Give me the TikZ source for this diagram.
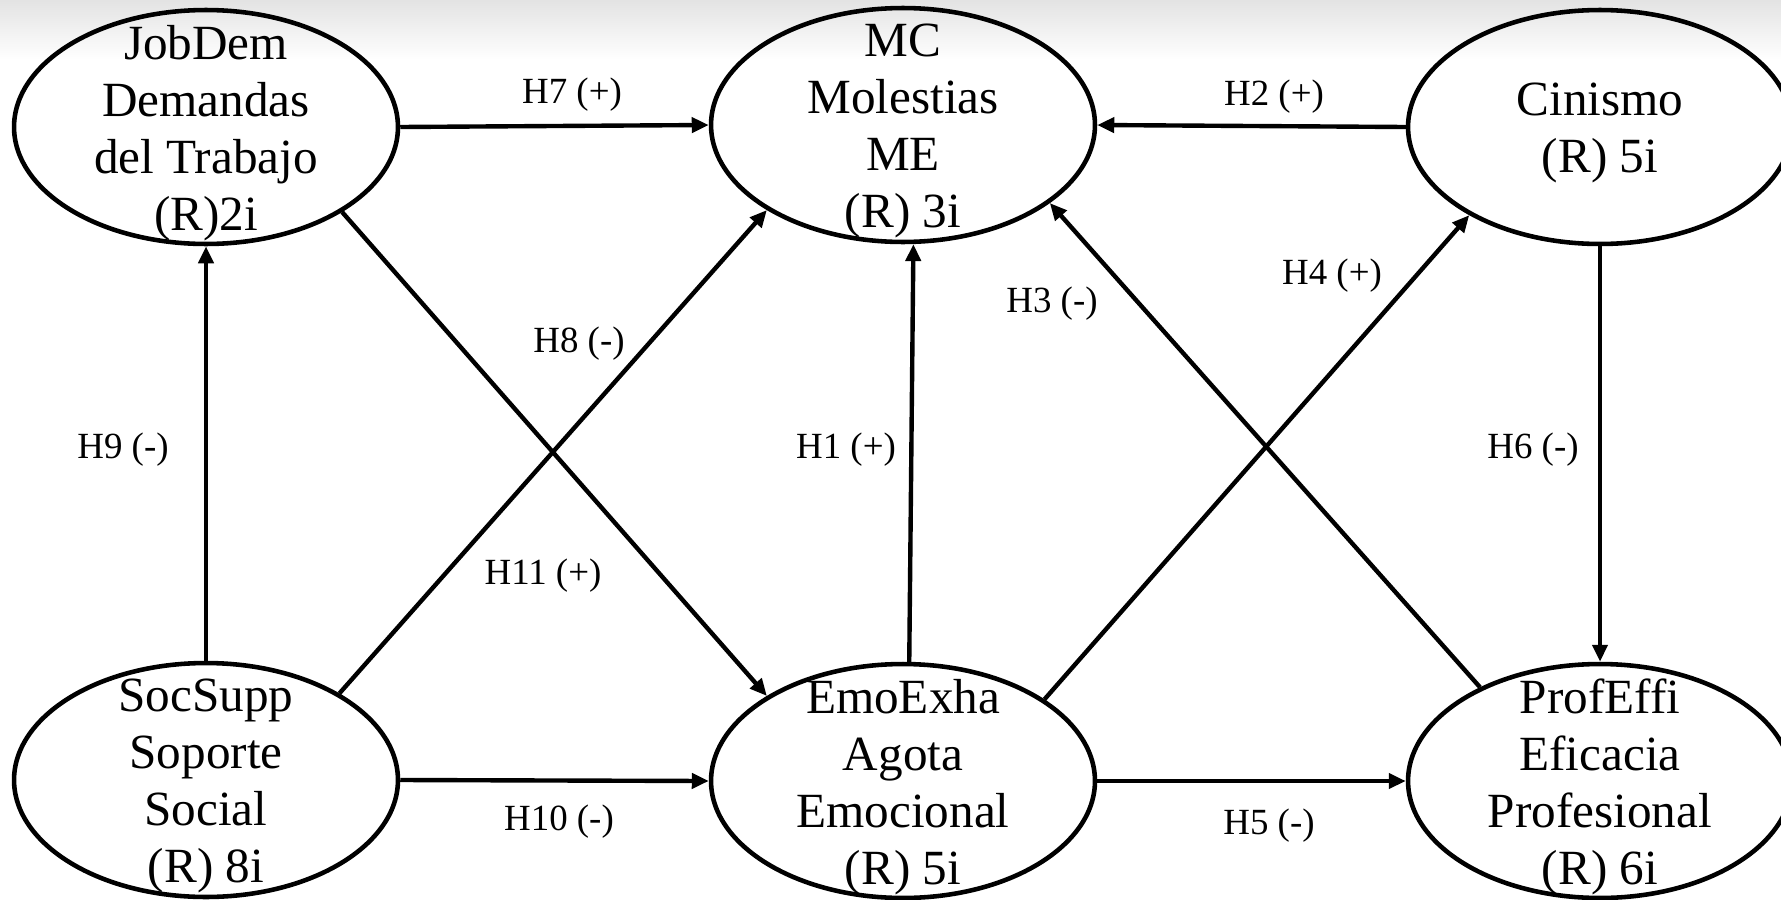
\documentclass[tikz,border=0pt]{standalone}
\usepackage{fontspec}
\setmainfont{Liberation Serif}
\usetikzlibrary{shapes.geometric,arrows.meta}

\begin{document}
\begin{tikzpicture}[x=0.02cm,y=-0.02cm,
        latent/.style={ellipse, draw, line width=2.6pt, minimum width=7.68cm, minimum height=4.68cm, inner sep=0pt},
        vartext/.style={align=center, yshift=-3.3pt, font=\fontsize{28}{32.4}\selectfont},
        hyp/.style={line width=2.5pt, -{Triangle[length=0.34cm,width=0.3cm]}},
        hlabel/.style={font=\fontsize{21}{24}\selectfont}]
        \useasboundingbox (0,0) rectangle (1781,899);
        \clip (0,0) rectangle (1781,899);
        \shade[top color=gray!22, bottom color=white] (0,0) rectangle (1781,60);
        % constructs
        \node[latent, label={[vartext]center:{JobDem\\Demandas\\del Trabajo\\(R)2i}}] (jobdem) at (206,127) {};
        \node[latent, label={[vartext]center:{MC\\Molestias\\ME\\(R) 3i}}] (mc) at (903,125) {};
        \node[latent, label={[vartext]center:{Cinismo\\(R) 5i}}] (cinismo) at (1600,127) {};
        \node[latent, label={[vartext]center:{SocSupp\\Soporte\\Social\\(R) 8i}}] (socsupp) at (206,780) {};
        \node[latent, label={[vartext]center:{EmoExha\\Agota\\Emocional\\(R) 5i}}] (emoexha) at (903,781) {};
        \node[latent, label={[vartext]center:{ProfEffi\\Eficacia\\Profesional\\(R) 6i}}] (profeffi) at (1600,781) {};
        % hypotheses
        \draw[hyp] (jobdem.0) -- (mc.180);
        \draw[hyp] (cinismo.180) -- (mc.0);
        \draw[hyp] (socsupp.90) -- (jobdem.-90);
        \draw[hyp] (emoexha.87) -- (mc.-85);
        \draw[hyp] (cinismo.-90) -- (profeffi.90);
        \draw[hyp] (socsupp.0) -- (emoexha.180);
        \draw[hyp] (emoexha.0) -- (profeffi.180);
        \draw[hyp] (jobdem.-32) -- (emoexha.148);
        \draw[hyp] (socsupp.33) -- (mc.-148);
        \draw[hyp] (emoexha.30) -- (cinismo.-146);
        \draw[hyp] (profeffi.142) -- (mc.-28);
        % labels
        \node[hlabel] (h7) at (572,95) {H7 (+)};
        \node[hlabel] (h2) at (1274,97) {H2 (+)};
        \node[hlabel] (h8) at (579,344) {H8 (-)};
        \node[hlabel] (h4) at (1332,276) {H4 (+)};
        \node[hlabel] (h3) at (1052,304) {H3 (-)};
        \node[hlabel] (h9) at (123,450) {H9 (-)};
        \node[hlabel] (h1) at (846,450) {H1 (+)};
        \node[hlabel] (h6) at (1533,450) {H6 (-)};
        \node[hlabel] (h11) at (543,576) {H11 (+)};
        \node[hlabel] (h10) at (559,822) {H10 (-)};
        \node[hlabel] (h5) at (1269,826) {H5 (-)};
\end{tikzpicture}
\end{document}
